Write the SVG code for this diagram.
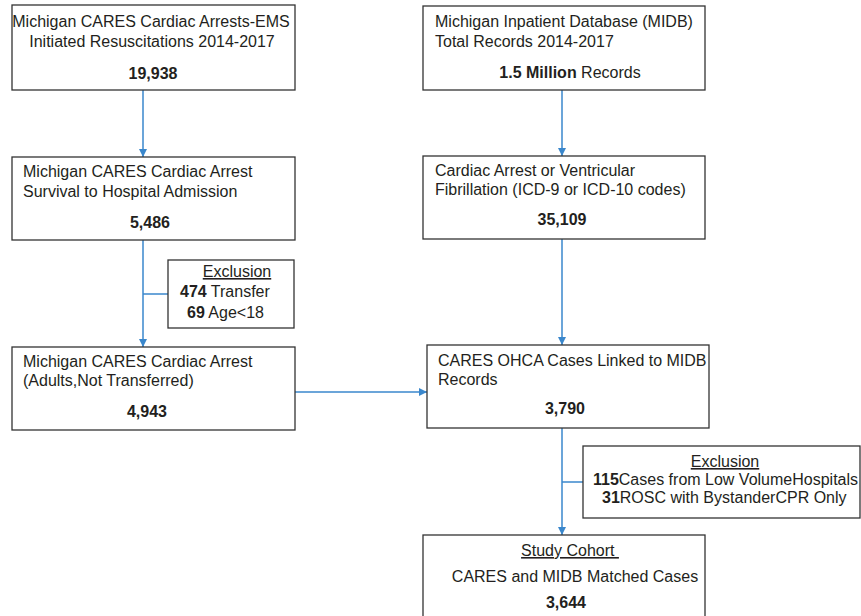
<svg xmlns="http://www.w3.org/2000/svg" width="861" height="616" viewBox="0 0 861 616">
  <defs>
    <style>
      .box { fill: #ffffff; stroke: #333333; stroke-width: 1.3; }
      .t { font-family: "Liberation Sans", Arial, sans-serif; font-size: 16px; fill: #231f20; }
      .b { font-weight: bold; }
      .m { text-anchor: middle; }
      .u { text-decoration: underline; }
      .conn { stroke: #3a87cc; stroke-width: 1.5; fill: none; }
    </style>
    <marker id="arr" markerUnits="userSpaceOnUse" markerWidth="10" markerHeight="10" refX="8" refY="4" orient="auto">
      <path d="M0,0 L8,4 L0,8 z" fill="#3a87cc"/>
    </marker>
  </defs>
  <rect width="861" height="616" fill="#ffffff"/>

  <g id="connectors">
    <line class="conn" x1="143" y1="90" x2="143" y2="157" marker-end="url(#arr)"/>
    <line class="conn" x1="143" y1="240" x2="143" y2="347" marker-end="url(#arr)"/>
    <line class="conn" x1="143" y1="294" x2="168" y2="294"/>
    <line class="conn" x1="295" y1="392" x2="427" y2="392" marker-end="url(#arr)"/>
    <line class="conn" x1="562" y1="90" x2="562" y2="156" marker-end="url(#arr)"/>
    <line class="conn" x1="562" y1="239" x2="562" y2="345" marker-end="url(#arr)"/>
    <line class="conn" x1="562" y1="428" x2="562" y2="535" marker-end="url(#arr)"/>
    <line class="conn" x1="562" y1="482" x2="583" y2="482"/>
  </g>

  <g id="cares-all">
    <rect class="box" x="12" y="5" width="283" height="85"/>
    <text class="t m" x="151" y="27">Michigan CARES Cardiac Arrests-EMS</text>
    <text class="t m" x="152" y="47">Initiated Resuscitations 2014-2017</text>
    <text class="t b m" x="153" y="79">19,938</text>
  </g>

  <g id="cares-survival">
    <rect class="box" x="12" y="157" width="283" height="83"/>
    <text class="t" x="23" y="177">Michigan CARES Cardiac Arrest</text>
    <text class="t" x="23" y="197">Survival to Hospital Admission</text>
    <text class="t b m" x="150" y="228">5,486</text>
  </g>

  <g id="exclusion-left">
    <rect class="box" x="168" y="260" width="126" height="68"/>
    <text class="t m u" x="237" y="277">Exclusion</text>
    <text class="t" x="180" y="297"><tspan class="b">474</tspan> Transfer</text>
    <text class="t" x="187" y="318"><tspan class="b">69</tspan> Age&lt;18</text>
  </g>

  <g id="cares-adults">
    <rect class="box" x="12" y="347" width="283" height="83"/>
    <text class="t" x="23" y="367">Michigan CARES Cardiac Arrest</text>
    <text class="t" x="23" y="386">(Adults,Not Transferred)</text>
    <text class="t b m" x="147" y="417">4,943</text>
  </g>

  <g id="midb-all">
    <rect class="box" x="423" y="6" width="282" height="84"/>
    <text class="t" x="435" y="27">Michigan Inpatient Database (MIDB)</text>
    <text class="t" x="435" y="47">Total Records 2014-2017</text>
    <text class="t m" x="570" y="78"><tspan class="b">1.5 Million</tspan> Records</text>
  </g>

  <g id="midb-ca">
    <rect class="box" x="423" y="156" width="282" height="83"/>
    <text class="t" x="435" y="176">Cardiac Arrest or Ventricular</text>
    <text class="t" x="435" y="195">Fibrillation (ICD-9 or ICD-10 codes)</text>
    <text class="t b m" x="562" y="225">35,109</text>
  </g>

  <g id="linked">
    <rect class="box" x="427" y="345" width="282" height="83"/>
    <text class="t" x="438" y="366">CARES OHCA Cases Linked to MIDB</text>
    <text class="t" x="438" y="385">Records</text>
    <text class="t b m" x="565" y="414">3,790</text>
  </g>

  <g id="exclusion-right">
    <rect class="box" x="583" y="446" width="277" height="72"/>
    <text class="t m u" x="725" y="467">Exclusion</text>
    <text class="t" x="593" y="485"><tspan class="b">115</tspan>Cases from Low VolumeHospitals</text>
    <text class="t" x="602" y="503"><tspan class="b">31</tspan>ROSC with BystanderCPR Only</text>
  </g>

  <g id="study-cohort">
    <rect class="box" x="423" y="535" width="282" height="90"/>
    <text class="t m u" x="570" y="556" style="white-space:pre">Study Cohort </text>
    <text class="t m" x="575" y="582">CARES and MIDB Matched Cases</text>
    <text class="t b m" x="566" y="608">3,644</text>
  </g>
</svg>
